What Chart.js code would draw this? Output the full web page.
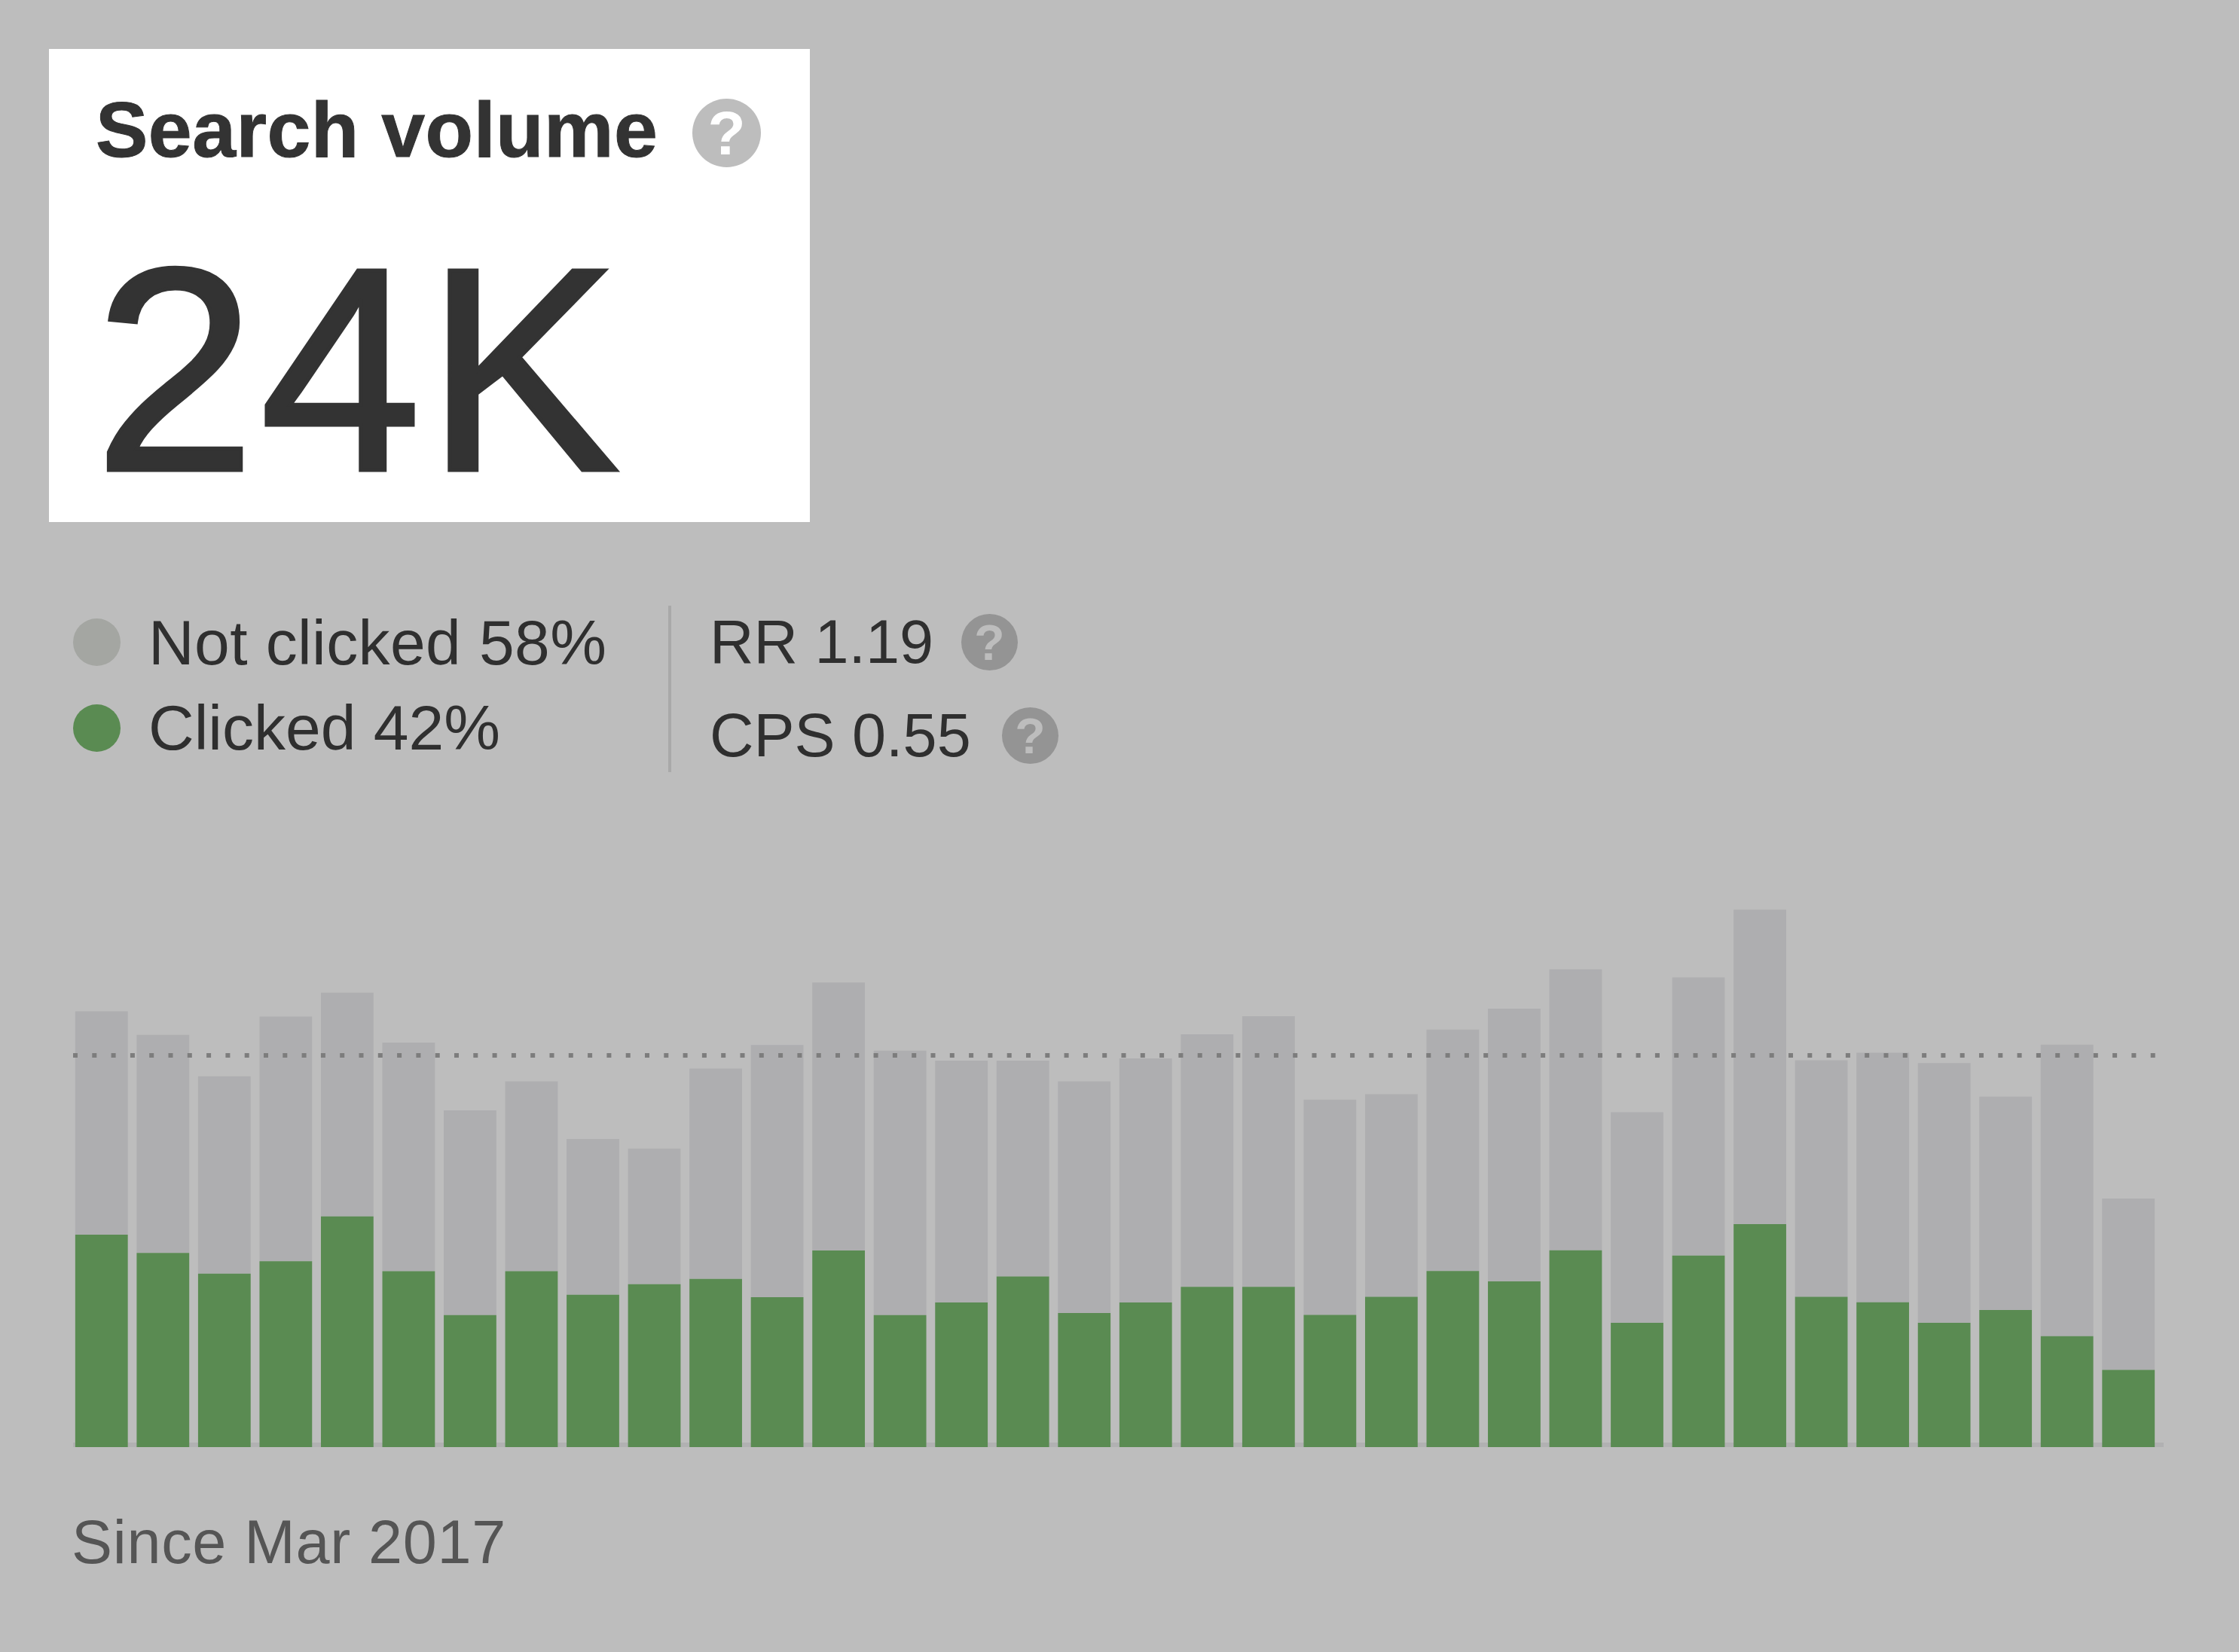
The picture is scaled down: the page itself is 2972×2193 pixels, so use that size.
<!DOCTYPE html>
<html>
<head>
<meta charset="utf-8">
<title>Search volume</title>
<script src="https://cdn.jsdelivr.net/npm/chart.js@4"></script>
<style>
  html, body { margin: 0; padding: 0; }
  body {
    position: relative;
    width: 2972px;
    height: 2193px;
    overflow: hidden;
    background: #bdbdbd;
    font-family: "Liberation Sans", Arial, sans-serif;
  }
  .card { position: absolute; left: 65px; top: 65px; width: 1010px; height: 628px; background: #fff; }
  .txt { position: absolute; line-height: 1; white-space: nowrap; color: #2f2f2f; }
  .title { left: 127px; top: 120px; font-size: 104px; font-weight: bold; color: #333; letter-spacing: 0.5px; -webkit-text-stroke: 1px #333; }
  .big { left: 125px; top: 298px; font-size: 385px; color: #333; letter-spacing: 6px; -webkit-text-stroke: 5px #333; }
  .legendTxt { font-size: 84px; }
  .metricTxt { font-size: 81px; }
  .since { left: 95px; top: 2007px; font-size: 81px; color: #555; letter-spacing: 0.7px; }
  .dot { position: absolute; border-radius: 50%; width: 63px; height: 63px; left: 97px; }
  .help {
    position: absolute; border-radius: 50%;
    display: flex; align-items: center; justify-content: center;
    font-weight: bold; background: #949494; color: #bdbdbd;
  }
  .divider { position: absolute; left: 887px; top: 804px; width: 4px; height: 221px; background: #a9a9a9; }
  #chartBox { position: absolute; left: 0; top: 1200px; width: 2972px; height: 730px; }
</style>
</head>
<body>
<div class="card"></div>
<div class="txt title" id="title"></div>
<div class="help" style="left:919px;top:131px;width:91px;height:91px;font-size:82px;background:#bdbdbd;color:#fff">?</div>
<div class="txt big" id="big"></div>

<div class="dot" style="top:821px;background:#a4a6a2"></div>
<div class="dot" style="top:935px;background:#5a8b52"></div>
<div class="txt legendTxt" id="legend0" style="left:197px;top:811px;letter-spacing:0.4px"></div>
<div class="txt legendTxt" id="legend1" style="left:197px;top:924px"></div>
<div class="divider"></div>
<div class="txt metricTxt" id="metric0" style="left:942px;top:812px"></div>
<div class="txt metricTxt" id="metric1" style="left:942px;top:936px"></div>
<div class="help" style="left:1276px;top:815px;width:75px;height:75px;font-size:66px">?</div>
<div class="help" style="left:1330px;top:939px;width:75px;height:75px;font-size:66px">?</div>

<div id="chartBox"><canvas id="volumeChart"></canvas></div>
<div class="txt since" id="since"></div>

<script>
// Search volume in thousands
const months = [
  'Mar 2017', 'Apr 2017', 'May 2017', 'Jun 2017', 'Jul 2017', 'Aug 2017', 'Sep 2017', 'Oct 2017', 'Nov 2017', 'Dec 2017',
  'Jan 2018', 'Feb 2018', 'Mar 2018', 'Apr 2018', 'May 2018', 'Jun 2018', 'Jul 2018', 'Aug 2018', 'Sep 2018', 'Oct 2018', 'Nov 2018', 'Dec 2018',
  'Jan 2019', 'Feb 2019', 'Mar 2019', 'Apr 2019', 'May 2019', 'Jun 2019', 'Jul 2019', 'Aug 2019', 'Sep 2019', 'Oct 2019', 'Nov 2019', 'Dec 2019'
];
const clicked = [
  13.01, 11.89, 10.62, 11.39, 14.13, 10.77, 8.09, 10.77, 9.33, 9.98, 10.30, 9.18,
  12.04, 8.09, 8.86, 10.45, 8.21, 8.86, 9.82, 9.82, 8.10, 9.21, 10.79, 10.15,
  12.05, 7.61, 11.73, 13.66, 9.21, 8.87, 7.61, 8.40, 6.80, 4.73
];
const notClicked = [
  13.68, 13.36, 12.10, 14.98, 13.71, 14.01, 12.54, 11.63, 9.54, 8.30, 12.89, 15.45,
  16.42, 16.19, 14.81, 13.22, 14.19, 14.95, 15.47, 16.57, 13.18, 12.41, 14.78, 16.71,
  17.22, 12.90, 17.04, 19.26, 14.48, 15.29, 15.91, 13.07, 17.85, 10.50
];
const averageVolume = 24;
const yMax = 33.27;

const titleText = 'Search volume';
const volumeText = '24K';
const legendTexts = ['Not clicked 58%', 'Clicked 42%'];
const metricTexts = ['RR 1.19', 'CPS 0.55'];
const sinceText = 'Since Mar 2017';

document.getElementById('title').textContent = titleText;
document.getElementById('big').textContent = volumeText;
legendTexts.forEach((t, i) => { document.getElementById('legend' + i).textContent = t; });
metricTexts.forEach((t, i) => { document.getElementById('metric' + i).textContent = t; });
document.getElementById('since').textContent = sinceText;

// Baseline strip under the bars
const baselineStrip = {
  id: 'baselineStrip',
  beforeDatasetsDraw(chart) {
    const ctx = chart.ctx;
    const y = chart.scales.y.getPixelForValue(0);
    ctx.save();
    ctx.fillStyle = '#b1b1b2';
    ctx.fillRect(97, y - 6, 2775, 6);
    ctx.restore();
  }
};

// Dotted average line on top of the bars
const averageLine = {
  id: 'averageLine',
  afterDatasetsDraw(chart) {
    const ctx = chart.ctx;
    const y = chart.scales.y.getPixelForValue(averageVolume);
    ctx.save();
    ctx.strokeStyle = '#7d7d7d';
    ctx.lineWidth = 6;
    ctx.setLineDash([6, 19.3]);
    ctx.beginPath();
    ctx.moveTo(97, y);
    ctx.lineTo(2865, y);
    ctx.stroke();
    ctx.restore();
  }
};

new Chart(document.getElementById('volumeChart'), {
  type: 'bar',
  data: {
    labels: months,
    datasets: [
      { label: 'Clicked', data: clicked, backgroundColor: '#5a8b52' },
      { label: 'Not clicked', data: notClicked, backgroundColor: '#aeaeb0' }
    ]
  },
  options: {
    responsive: true,
    maintainAspectRatio: false,
    animation: false,
    layout: { padding: { left: 94, right: 106, top: 0, bottom: 9 } },
    datasets: { bar: { barPercentage: 0.856, categoryPercentage: 1 } },
    plugins: { legend: { display: false }, tooltip: { enabled: false } },
    scales: {
      x: { stacked: true, display: false },
      y: { stacked: true, display: false, min: 0, max: yMax }
    }
  },
  plugins: [baselineStrip, averageLine]
});
</script>
</body>
</html>
